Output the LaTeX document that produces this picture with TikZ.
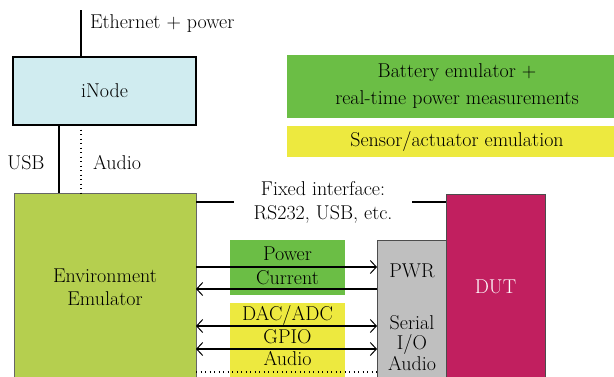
\documentclass[tikz,border=0pt]{standalone}
\usetikzlibrary{arrows.meta,calc}
\definecolor{inodec}{HTML}{D0ECF0}
\definecolor{envc}{HTML}{B5CF4F}
\definecolor{greenc}{HTML}{6BBE45}
\definecolor{yellowc}{HTML}{EDE93F}
\definecolor{grayc}{HTML}{BFBFBF}
\definecolor{dutc}{HTML}{C11F5F}
\begin{document}
\begin{tikzpicture}[x=1pt,y=-1pt,
  font=\fontsize{20}{22}\selectfont,
  box/.style={anchor=north west, inner sep=0pt, outer sep=0pt, align=center},
  lbl/.style={inner sep=0pt, outer sep=0pt, align=center},
  conn/.style={line width=1.2pt},
  dots/.style={line width=1.1pt, dash pattern=on 1.1pt off 3.4pt},
  arr/.style={line width=1.2pt, -{Straight Barb[length=6pt,width=13pt,line width=1pt]}},
  darr/.style={line width=1.2pt, {Straight Barb[length=6pt,width=13pt,line width=1pt]}-{Straight Barb[length=6pt,width=13pt,line width=1pt]}}
]
\useasboundingbox (0,0) rectangle (614,376);
\clip (0,0) rectangle (614,376);

% legend
\node[box, fill=greenc, minimum width=340pt, minimum height=63pt, font=\fontsize{20}{27}\selectfont] (leggreen) at (287,55) {Battery emulator +\\real-time power measurements};
\node[box, fill=yellowc, minimum width=340pt, minimum height=31pt] (legyellow) at (287,126) {Sensor/actuator emulation};

% iNode
\node[box, fill=inodec, draw=black, line width=1.3pt, minimum width=183pt, minimum height=68pt] (inode) at (13,57) {iNode};
\coordinate (ethtop) at (81,10);
\coordinate (usbx) at (59,0);
\draw[line width=2.4pt] (ethtop) -- (ethtop |- inode.north);
\node[lbl, anchor=west] (ethlbl) at (90,24) {Ethernet + power};

% Environment emulator
\node[box, fill=envc, draw=black!60, line width=1pt, minimum width=182pt, minimum height=188pt, font=\fontsize{20}{23}\selectfont] (env) at (14,193) {Environment\\Emulator};

\draw[conn] (inode.south -| usbx) -- (env.north -| usbx);
\draw[dots] (inode.south -| ethtop) -- (env.north -| ethtop);
\node[lbl] (usblbl) at (26,163) {USB};
\node[lbl, anchor=west] (audiolbl) at (93,163) {Audio};

% DUT
\node[box, fill=dutc, draw=black!70, line width=1pt, minimum width=99pt, minimum height=186pt, text=white] (dut) at (446,194) {DUT};

% gray box
\node[box, fill=grayc, draw=black!70, line width=1pt, minimum width=69pt, minimum height=140pt] (gray) at (377,240) {};
\node[lbl] (pwr) at (412,271) {PWR};
\node[lbl, font=\fontsize{20}{20.5}\selectfont] (sio) at (412,343) {Serial\\I/O\\Audio};

% fixed interface
\node[lbl, minimum width=178pt, font=\fontsize{20}{24}\selectfont] (fixed) at (323,202) {Fixed interface:\\RS232, USB, etc.};
\draw[conn] (env.east |- fixed) -- (fixed.west);
\draw[conn] (fixed.east) -- (dut.west |- fixed);

% green label block
\node[box, fill=greenc, minimum width=115pt, minimum height=55pt] (gblock) at (230,240) {};
\node[lbl] (power) at (287.5,254) {Power};
\node[lbl] (current) at (287.5,278) {Current};

% yellow label block
\node[box, fill=yellowc, minimum width=115pt, minimum height=80pt] (yblock) at (230,303) {};
\node[lbl] (dac) at (287.5,315) {DAC/ADC};
\node[lbl] (gpio) at (287.5,337) {GPIO};
\node[lbl] (audio2) at (287.5,359) {Audio};

% arrows
\coordinate (ya) at (0,267);
\coordinate (yb) at (0,289);
\coordinate (yc) at (0,326);
\coordinate (yd) at (0,349);
\coordinate (ye) at (0,372);
\draw[arr] (env.east |- ya) -- (gray.west |- ya);
\draw[arr] (gray.west |- yb) -- (env.east |- yb);
\draw[darr] (env.east |- yc) -- (gray.west |- yc);
\draw[darr] (env.east |- yd) -- (gray.west |- yd);
\draw[dots] (env.east |- ye) -- (gray.west |- ye);
\end{tikzpicture}
\end{document}
